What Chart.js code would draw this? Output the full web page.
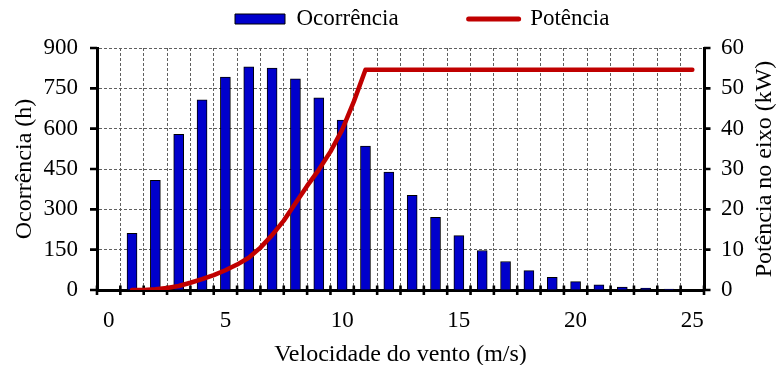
<!DOCTYPE html>
<html>
<head>
<meta charset="utf-8">
<script src="https://cdn.jsdelivr.net/npm/chart.js@4/dist/chart.umd.min.js"></script>
<style>
  html, body { margin: 0; padding: 0; background: #fff; overflow: hidden; }
  #wrap { position: absolute; left: 0; top: 0; width: 780px; height: 365px; }
</style>
</head>
<body>
<div id="wrap"><canvas id="c"></canvas></div>
<script>
// ---- data ----
const windSpeed = [1,2,3,4,5,6,7,8,9,10,11,12,13,14,15,16,17,18,19,20,21,22,23,24,25];
const occurrence = [211,408,579,707,792,830,825,785,715,632,535,439,352,270,202,147,106,72,47,31,19,11,7,3,0];
const powerSpeed = [1,1.5,2,2.5,3,3.5,4,4.5,5,5.5,6,6.5,7,7.5,8,8.5,9,9.5,10,10.5,11,25];
const powerValue = [0,0,0.2,0.5,1.0,1.8,2.7,3.7,4.9,6.3,8.0,10.5,13.6,17.2,21.5,25.8,29.8,34.3,39.7,46.7,54.6,54.6];
const xTickLabels = [0,5,10,15,20,25];
const yLeftTicks = [0,150,300,450,600,750,900];
const yRightTicks = [0,10,20,30,40,50,60];
const seriesNames = ['Ocorrência','Potência'];
const axisTitles = { x: 'Velocidade do vento (m/s)', yLeft: 'Ocorrência (h)', yRight: 'Potência no eixo (kW)' };

const FONT = '"Liberation Serif", "Times New Roman", serif';
const FS = 23;
const FT = 24;
Chart.defaults.font.family = FONT;
Chart.defaults.color = '#000';

const gridColor = '#606060';
const halfTicks = [];
for (let v = -0.5; v <= 25.5; v += 1) halfTicks.push(v);

const tickMarks = {
  id: 'tickMarks',
  beforeDatasetsDraw(chart) {
    const ctx = chart.ctx, a = chart.chartArea;
    const x = chart.scales.x, y = chart.scales.y, y1 = chart.scales.y1;
    ctx.save();
    ctx.strokeStyle = '#000';
    ctx.lineWidth = 2.6;
    ctx.beginPath();
    halfTicks.forEach(v => { const p = x.getPixelForValue(v); ctx.moveTo(p, a.bottom - 4.5); ctx.lineTo(p, a.bottom + 5); });
    ctx.stroke();
    ctx.beginPath();
    yLeftTicks.forEach(v => { const p = y.getPixelForValue(v); ctx.moveTo(a.left - 7, p); ctx.lineTo(a.left, p); });
    yRightTicks.forEach(v => { const p = y1.getPixelForValue(v); ctx.moveTo(a.right, p); ctx.lineTo(a.right + 6.5, p); });
    ctx.stroke();
    ctx.restore();
  },
  afterDraw(chart) {
    const ctx = chart.ctx, a = chart.chartArea;
    ctx.save();
    ctx.font = FT + 'px ' + FONT;
    ctx.fillStyle = '#000';
    ctx.textAlign = 'center';
    ctx.textBaseline = 'middle';
    ctx.translate(765, (a.top + a.bottom) / 2);
    ctx.rotate(-Math.PI / 2);
    ctx.fillText(axisTitles.yRight, 0, 0);
    ctx.restore();
  }
};

const legendPlace = {
  id: 'legendPlace',
  afterLayout(chart) {
    const L = chart.legend;
    if (!L || !L.lineWidths) return;
    const P = L.options.labels.padding;
    const x0 = (L.left + P + L.right - L.lineWidths[0]) / 2;
    const dx = 235 - x0;
    L.left += dx; L.right += dx;
    L.top = 19 - P - FS / 2;
  }
};

new Chart(document.getElementById('c'), {
  data: {
    datasets: [
      {
        type: 'bar',
        label: seriesNames[0],
        data: windSpeed.map((s, i) => ({ x: s, y: occurrence[i] })),
        backgroundColor: '#0000CC',
        borderColor: '#000',
        borderWidth: 1,
        barThickness: 10,
        xAxisID: 'x', yAxisID: 'y',
        order: 1
      },
      {
        type: 'line',
        label: seriesNames[1],
        data: powerSpeed.map((s, i) => ({ x: s, y: powerValue[i] })),
        borderColor: '#C00000',
        backgroundColor: '#C00000',
        borderWidth: 4.5,
        pointRadius: 0,
        tension: 0,
        borderCapStyle: 'round',
        borderJoinStyle: 'round',
        xAxisID: 'x', yAxisID: 'y1',
        order: 0
      }
    ]
  },
  options: {
    responsive: true,
    maintainAspectRatio: false,
    animation: false,
    layout: { padding: 0 },
    plugins: {
      tooltip: { enabled: false },
      legend: {
        position: 'top',
        maxHeight: 48,
        labels: {
          font: { size: FS, family: FONT },
          color: '#000',
          usePointStyle: true,
          pointStyleWidth: 50,
          boxWidth: 50,
          boxHeight: 10,
          padding: 70,
          generateLabels(chart) {
            const items = Chart.defaults.plugins.legend.labels.generateLabels(chart);
            items.sort((a, b) => a.datasetIndex - b.datasetIndex);
            items.forEach(it => {
              if (it.datasetIndex === 0) { it.pointStyle = 'rect'; it.fillStyle = '#0000CC'; it.strokeStyle = '#000'; it.lineWidth = 1; }
              else { it.pointStyle = 'line'; it.strokeStyle = '#C00000'; it.lineWidth = 5; it.lineCap = 'round'; }
            });
            return items;
          }
        }
      }
    },
    scales: {
      x: {
        type: 'linear',
        position: 'bottom',
        min: -0.5,
        max: 25.5,
        offset: false,
        afterBuildTicks(scale) {
          const vals = halfTicks.concat(xTickLabels).sort((a, b) => a - b);
          scale.ticks = vals.map(v => ({ value: v }));
        },
        ticks: {
          autoSkip: false,
          maxRotation: 0,
          padding: 17,
          font: { size: FS },
          color: '#000',
          callback: v => (xTickLabels.includes(v) ? String(v) : '')
        },
        grid: {
          offset: false,
          drawTicks: false,
          lineWidth: 1,
          color: ctx => {
            const v = ctx.tick ? ctx.tick.value : 0;
            if (Number.isInteger(v) || v < 0 || v > 25) return 'rgba(0,0,0,0)';
            return gridColor;
          }
        },
        border: { color: '#000', width: 3, dash: [3, 2] },
        title: { display: true, text: axisTitles.x, font: { size: FT }, color: '#000', padding: { top: 0, bottom: -4 } },
        afterFit(scale) { scale.height = 75; }
      },
      y: {
        position: 'left',
        min: 0,
        max: 900,
        ticks: {
          stepSize: 75,
          padding: 19,
          font: { size: FS },
          color: '#000',
          callback: v => (yLeftTicks.includes(v) ? String(v) : '')
        },
        grid: {
          drawTicks: false,
          lineWidth: 1,
          color: ctx => (ctx.tick && ctx.tick.value === 0 ? 'rgba(0,0,0,0)' : gridColor)
        },
        border: { color: '#000', width: 3, dash: [3, 2] },
        title: { display: true, text: axisTitles.yLeft, font: { size: FT }, color: '#000', padding: { top: 10, bottom: 0 } },
        afterFit(scale) { scale.width = 97; }
      },
      y1: {
        position: 'right',
        min: 0,
        max: 60,
        ticks: {
          stepSize: 10,
          padding: 17,
          font: { size: FS },
          color: '#000',
          callback: v => (yRightTicks.includes(v) ? String(v) : '')
        },
        grid: { display: false, drawTicks: false },
        border: { color: '#000', width: 3 },
        afterFit(scale) { scale.width = 76; }
      }
    }
  },
  plugins: [tickMarks, legendPlace]
});
</script>
</body>
</html>
